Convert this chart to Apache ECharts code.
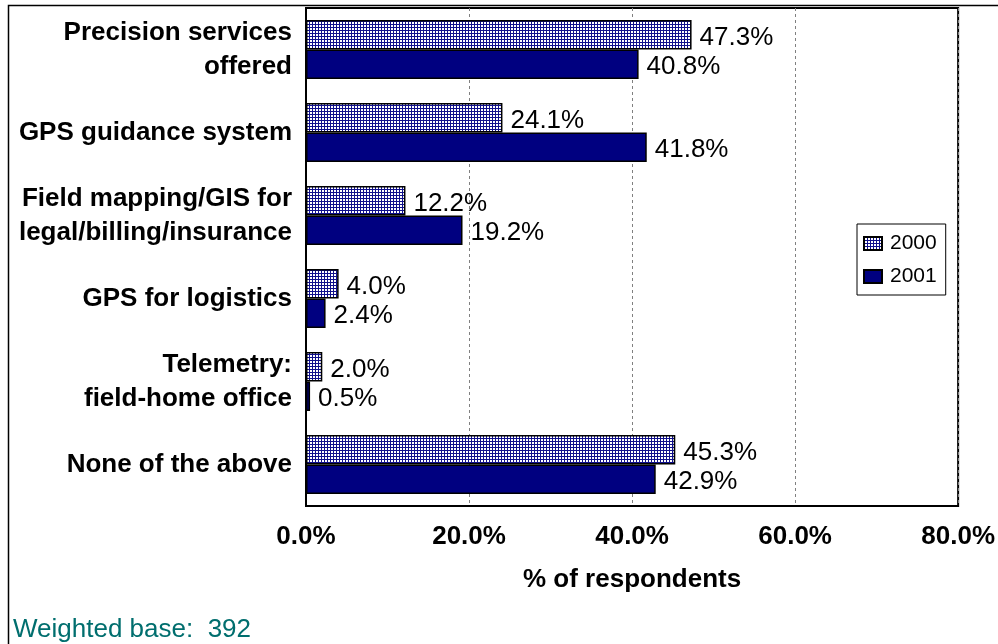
<!DOCTYPE html>
<html>
<head>
<meta charset="utf-8">
<script src="https://cdn.jsdelivr.net/npm/echarts@6/dist/echarts.min.js"></script>
<style>
  html, body { margin: 0; padding: 0; background: #fff; }
  #chart { width: 998px; height: 644px; }
</style>
</head>
<body>
<div id="chart"></div>
<script>
// Survey categories and shares of respondents (%)
const categories = [
  'Precision services\noffered',
  'GPS guidance system',
  'Field mapping/GIS for\nlegal/billing/insurance',
  'GPS for logistics',
  'Telemetry:\nfield-home office',
  'None of the above'
];
const values2000 = [47.3, 24.1, 12.2, 4.0, 2.0, 45.3];
const values2001 = [40.8, 41.8, 19.2, 2.4, 0.5, 42.9];
const seriesNames = ['2000', '2001'];
const xTicks = [0, 20, 40, 60, 80];

// Fine blue grid fill for the 2000 bars
function gridPattern() {
  const c = document.createElement('canvas');
  c.width = 3; c.height = 3;
  const ctx = c.getContext('2d');
  ctx.fillStyle = '#ffffff';
  ctx.fillRect(0, 0, 3, 3);
  ctx.fillStyle = '#10108c';
  ctx.fillRect(0, 0, 3, 1);
  ctx.fillRect(0, 0, 1, 3);
  return c;
}

const FONT = 'Liberation Sans, Arial, sans-serif';
const chart = echarts.init(document.getElementById('chart'), null, { renderer: 'canvas' });

const labelStyle = {
  show: true,
  position: 'right',
  distance: 8,
  offset: [0, 3],
  fontFamily: FONT,
  fontSize: 26,
  color: '#000',
  formatter: p => p.value.toFixed(1) + '%'
};

chart.setOption({
  animation: false,
  backgroundColor: '#fff',
  grid: {
    left: 306, right: 39, top: 8, bottom: 138,
    show: true, borderColor: '#000', borderWidth: 2,
    backgroundColor: 'transparent'
  },
  legend: {
    data: seriesNames,
    orient: 'vertical',
    left: 857, top: 224,
    backgroundColor: '#fff',
    borderColor: '#000', borderWidth: 1,
    padding: [9, 9, 8, 6],
    itemGap: 12,
    itemWidth: 18, itemHeight: 13,
    textStyle: { fontFamily: FONT, fontSize: 21, color: '#000', padding: [2, 0, 0, 3] },
    icon: 'rect'
  },
  xAxis: {
    type: 'value',
    min: xTicks[0], max: xTicks[xTicks.length - 1], interval: 20,
    name: '% of respondents',
    nameLocation: 'middle',
    nameGap: 61,
    nameTextStyle: { fontFamily: FONT, fontSize: 26, fontWeight: 'bold', color: '#000' },
    axisLine: { show: false },
    axisTick: { show: false },
    axisLabel: {
      margin: 18,
      fontFamily: FONT, fontSize: 26, fontWeight: 'bold', color: '#000',
      formatter: v => v.toFixed(1) + '%'
    },
    splitLine: { show: true, lineStyle: { color: '#808080', type: [3, 3], width: 1 } }
  },
  yAxis: {
    type: 'category',
    data: categories,
    inverse: true,
    axisLine: { show: true, lineStyle: { color: '#000', width: 2 } },
    axisTick: { show: false },
    axisLabel: {
      margin: 14,
      fontFamily: FONT, fontSize: 26, fontWeight: 'bold', color: '#000',
      lineHeight: 34, align: 'right'
    }
  },
  series: [
    {
      name: seriesNames[0],
      type: 'bar',
      data: values2000,
      barGap: '0%',
      barCategoryGap: '29%',
      itemStyle: { color: { image: gridPattern(), repeat: 'repeat' }, borderColor: '#000', borderWidth: 1.5 },
      label: labelStyle
    },
    {
      name: seriesNames[1],
      type: 'bar',
      data: values2001,
      barGap: '0%',
      barCategoryGap: '29%',
      itemStyle: { color: '#000080', borderColor: '#000', borderWidth: 1.5 },
      label: labelStyle
    }
  ],
  graphic: [
    {
      type: 'polyline',
      shape: { points: [[8.5, 644], [8.5, 5.5], [998, 5.5]] },
      style: { stroke: '#000', lineWidth: 1.5, fill: null },
      silent: true
    },
    {
      type: 'text',
      left: 13, top: 617,
      style: {
        text: 'Weighted base:  392',
        fontFamily: FONT, fontSize: 26, fill: '#006e6e'
      }
    }
  ]
});
</script>
</body>
</html>
